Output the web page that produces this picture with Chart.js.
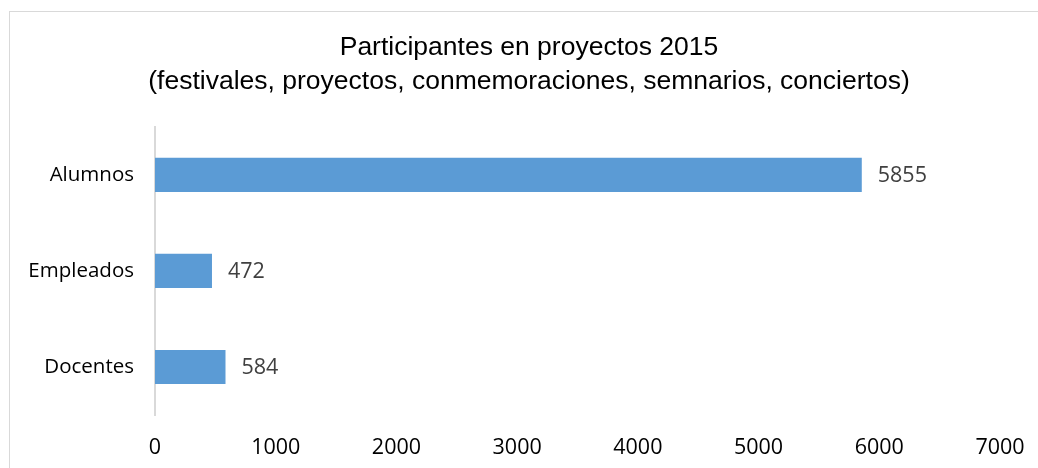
<!DOCTYPE html>
<html>
<head>
<meta charset="utf-8">
<script src="https://cdn.jsdelivr.net/npm/chart.js@4"></script>
<style>
    html, body { margin: 0; padding: 0; background: #fff; overflow: hidden; }
    #wrap { position: relative; width: 1038px; height: 468px; }
    #frame { position: absolute; left: 9px; top: 11px; width: 1040px; height: 470px; border: 1px solid #d9d9d9; box-sizing: border-box; }
    canvas { position: absolute; left: 0; top: 0; }
</style>
</head>
<body>
<div id="wrap">
    <div id="frame"></div>
    <canvas id="chart" width="1038" height="468"></canvas>
</div>
<script>
// 数据
const categories = ['Alumnos', 'Empleados', 'Docentes'];
const values = [5855, 472, 584];
const titleLines = ['Participantes en proyectos 2015', '(festivales, proyectos, conmemoraciones, semnarios, conciertos)'];
const xTicks = [0, 1000, 2000, 3000, 4000, 5000, 6000, 7000];

const catFont = { family: '"Open Sans", sans-serif', size: 20.5 };
const numFont = { family: '"Open Sans", sans-serif', size: 21.5 };

// 数据标签 + 标题位置微调
const valueLabels = {
    id: 'valueLabels',
    afterLayout(chart) {
        // 标题整体右移，与原图居中位置一致
        if (chart.titleBlock) {
            chart.titleBlock.left += 29;
            chart.titleBlock.right += 29;
        }
    },
    afterDatasetsDraw(chart) {
        const ctx = chart.ctx;
        const meta = chart.getDatasetMeta(0);
        ctx.save();
        ctx.font = '21.5px "Open Sans", sans-serif';
        ctx.fillStyle = '#404040';
        ctx.textAlign = 'left';
        ctx.textBaseline = 'middle';
        meta.data.forEach((bar, i) => {
            ctx.fillText(String(values[i]), bar.x + 16, bar.y + 1);
        });
        ctx.restore();
    }
};

new Chart(document.getElementById('chart').getContext('2d'), {
    type: 'bar',
    data: {
        labels: categories,
        datasets: [{
            data: values,
            backgroundColor: '#5b9bd5',
            borderWidth: 0,
            categoryPercentage: 0.355,
            barPercentage: 1
        }]
    },
    options: {
        indexAxis: 'y',
        responsive: false,
        animation: false,
        layout: { padding: { left: 0, right: 38, top: 0, bottom: 0 } },
        plugins: {
            legend: { display: false },
            tooltip: { enabled: false },
            title: {
                display: true,
                text: titleLines,
                color: '#000',
                font: { family: '"Liberation Sans", Arial, sans-serif', size: 26.5, weight: 'normal', lineHeight: 1.28 },
                padding: { top: 31, bottom: 28 }
            }
        },
        scales: {
            x: {
                min: 0,
                max: 7000,
                afterBuildTicks: (scale) => { scale.ticks = xTicks.map(v => ({ value: v })); },
                grid: { display: false, drawTicks: false },
                border: { display: false },
                ticks: {
                    color: '#000',
                    font: numFont,
                    padding: 20,
                    maxRotation: 0,
                    callback: (value) => String(value)
                },
                afterFit: (scale) => {
                    scale.height = 53;
                    scale.paddingLeft = 0;
                    scale.paddingRight = 0;
                }
            },
            y: {
                grid: { display: false, drawTicks: false },
                border: { display: true, color: '#d9d9d9', width: 2 },
                ticks: { color: '#000', font: catFont, padding: 21 },
                afterFit: (scale) => { scale.width = 155; }
            }
        }
    },
    plugins: [valueLabels]
});
</script>
</body>
</html>
